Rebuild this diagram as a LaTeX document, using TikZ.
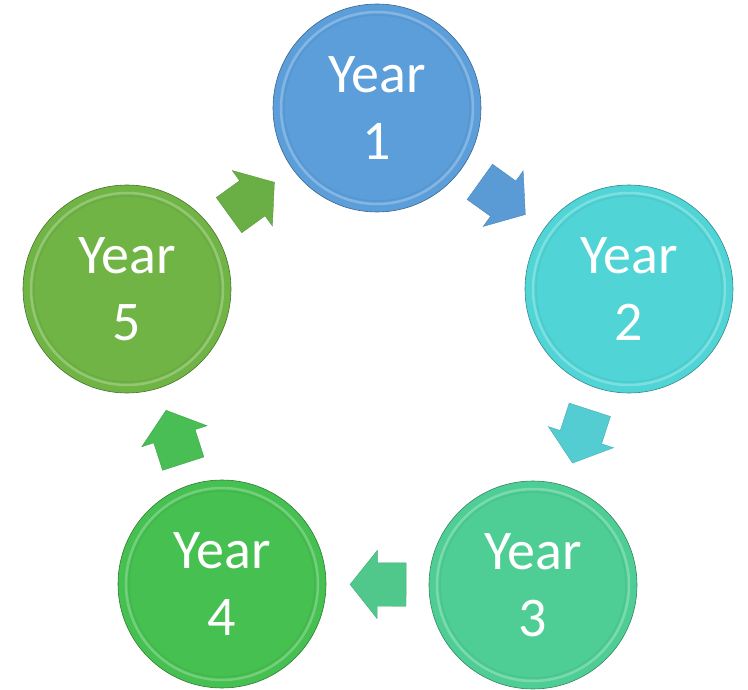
\documentclass[tikz,border=0pt]{standalone}
\usepackage{fontspec}
\setmainfont{Carlito}
\usepackage{tikz}
\usetikzlibrary{shapes.arrows}

\definecolor{yone}{RGB}{92,158,218}
\definecolor{ytwo}{RGB}{80,212,214}
\definecolor{ythree}{RGB}{78,206,148}
\definecolor{yfour}{RGB}{70,192,80}
\definecolor{yfive}{RGB}{112,180,70}
\definecolor{aone}{RGB}{91,155,213}
\definecolor{atwo}{RGB}{84,205,210}
\definecolor{athree}{RGB}{80,200,140}
\definecolor{afour}{RGB}{72,190,85}
\definecolor{afive}{RGB}{105,175,70}

\newcommand{\yearfont}{\fontsize{56}{67}\selectfont}

\tikzset{
  yearball/.style={circle, minimum size=208pt, inner sep=0pt, fill=#1,
    draw=#1!65!black, line width=0.6pt, text=white, font=\yearfont, align=center,
    path picture={
      \draw[#1!50!white, line width=2.5pt, opacity=0.5]
        (path picture bounding box.center) circle (96pt);
      \draw[#1!85!black, line width=1.5pt, opacity=0.3]
        (path picture bounding box.center) circle (93pt);}},
  blockarrow/.style={single arrow, fill=#1, draw=#1!85!black, line width=0.4pt,
    minimum height=56pt, inner xsep=0pt, inner ysep=21.5pt,
    single arrow head extend=12.5pt, single arrow tip angle=103,
    sloped, allow upside down}
}

\begin{document}
\begin{tikzpicture}[x=1pt,y=-1pt]

\useasboundingbox (0,0) rectangle (748,690);

% the five years
\foreach \n/\x/\y/\c in {1/377/108/yone, 2/629/289/ytwo, 3/533/585/ythree,
                         4/222/584/yfour, 5/127/289/yfive}
    \node[yearball=\c] (y\n) at (\x,\y) {Year\\\n};

% arrows between them
\foreach \a/\b/\c in {1/2/aone, 2/3/atwo, 3/4/athree, 4/5/afour, 5/1/afive}
    \path (y\a) -- (y\b) node[pos=0.41, blockarrow=\c] (arr\a) {};

\end{tikzpicture}
\end{document}
